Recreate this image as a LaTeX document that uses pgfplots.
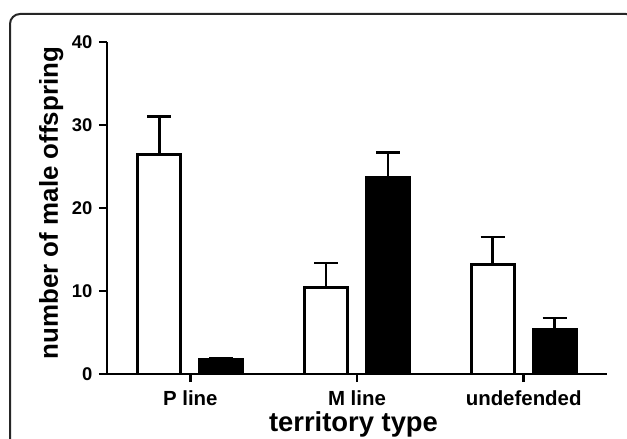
\documentclass[border=0pt]{standalone}
\usepackage{fontspec}
\setmainfont{Liberation Sans}
\usepackage{pgfplots}
\pgfplotsset{compat=1.18}

\begin{document}
\begin{tikzpicture}
\path[use as bounding box] (0bp,0bp) rectangle (627bp,439bp);
% frame round the figure
\draw[line width=2bp, black!85, rounded corners=10bp]
  (10bp,-10bp) -- (10bp,425bp) -- (636bp,425bp) -- (636bp,-10bp);

\begin{axis}[
    at={(107bp,65bp)}, anchor=south west,
    scale only axis, width=500bp, height=332bp,
    xmin=-0.5, xmax=2.5, ymin=0, ymax=40,
    axis lines*=left,
    axis line style={line width=2.7bp},
    every tick/.style={line width=2.5bp, black},
    major tick length=8bp,
    tick align=outside,
    xtick={0,1,2},
    xticklabels={P line, M line, undefended},
    ytick={0,10,20,30,40},
    /pgf/number format/assume math mode=true,
    xticklabel style={font=\fontsize{20.5}{22}\selectfont\bfseries, anchor=base,
      inner sep=0pt, yshift=-23.5bp},
    yticklabel style={font=\fontsize{18.5}{20}\selectfont\bfseries, xshift=-3bp},
    xlabel={territory type},
    xlabel style={font=\fontsize{27.5}{30}\selectfont\bfseries, inner sep=0pt,
      at={(axis description cs:0.493,0)}, anchor=base, yshift=-57.5bp},
    ylabel={number of male offspring},
    ylabel style={font=\fontsize{26}{28}\selectfont\bfseries,
      at={(axis description cs:-0.098,0.515)}, anchor=base},
    ybar, bar width=43bp,
    error bars/y dir=plus, error bars/y explicit,
    error bars/error bar style={line width=2.5bp, black},
    error bars/error mark options={rotate=90, mark size=12bp, line width=2.5bp, black},
  ]
  \addplot[draw=black, fill=white, line width=2.8bp, bar shift=-31bp]
    coordinates {(0,26.4) +- (0,4.6) (1,10.4) +- (0,3.0) (2,13.2) +- (0,3.3)};
  \addplot[draw=black, fill=black, line width=2.8bp, bar shift=31bp]
    coordinates {(0,1.7) +- (0,0.25) (1,23.7) +- (0,3.0) (2,5.4) +- (0,1.35)};
\end{axis}
\end{tikzpicture}
\end{document}
